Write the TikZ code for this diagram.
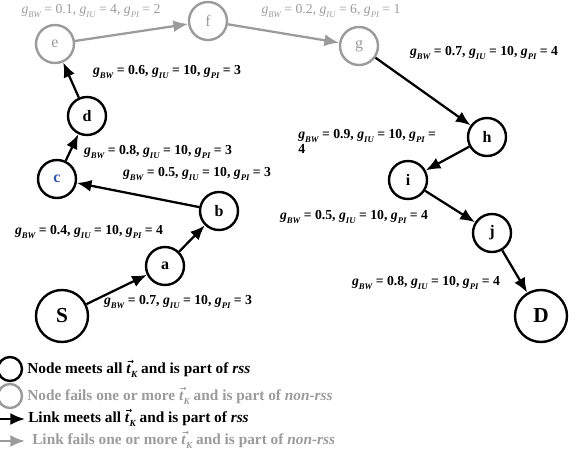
\documentclass[tikz,border=0pt]{standalone}
\usepackage{fontspec}
\setmainfont{Liberation Serif}
\newfontfamily\dejavu{DejaVu Sans}
\usetikzlibrary{arrows.meta}
\definecolor{lgray}{RGB}{155,155,155}
\definecolor{cblue}{RGB}{45,85,170}
\newcommand{\gs}[1]{\textit{g}\raisebox{-0.6ex}{\fontsize{6.5}{6.5}\selectfont\itshape #1}}
\newcommand{\tk}{\rlap{\smash{\raisebox{1.25ex}{\hspace{0.05em}\fontsize{6}{6}\dejavu\bfseries →}}}\textit{t}\smash{\raisebox{-0.6ex}{\fontsize{7}{7}\selectfont\itshape K}}}
\newcommand{\glab}[3]{\gs{BW} = #1, \gs{IU} = #2, \gs{PI} = #3}
\begin{document}
\begin{tikzpicture}[x=0.75pt,y=-0.75pt,
  font=\fontsize{10.3}{12}\selectfont\bfseries,
  vtx/.style={circle,draw=black,line width=1.8pt,minimum size=28.5pt,inner sep=0pt,font=\fontsize{12}{12}\selectfont\bfseries},
  bigvtx/.style={vtx,minimum size=39pt,font=\fontsize{16}{16}\selectfont\bfseries},
  grayvtx/.style={vtx,draw=lgray,text=lgray,font=\fontsize{12}{12}\selectfont},
  okedge/.style={draw=black,line width=1.7pt,-{Latex[length=11pt,width=9pt]}},
  badedge/.style={draw=lgray,line width=1.7pt,-{Latex[length=11pt,width=9pt]}},
  lab/.style={inner sep=0pt},
  graylab/.style={lab,text=lgray,font=\fontsize{10.3}{12}\selectfont},
  legtxt/.style={anchor=west,inner sep=0pt,font=\fontsize{11.5}{12}\selectfont\bfseries}]
\useasboundingbox (0,0) rectangle (577,459);
% nodes
\node[bigvtx] (S) at (62,316) {S};
\node[vtx] (a) at (165,266) {a};
\node[vtx] (b) at (219,211) {b};
\node[vtx,text=cblue] (c) at (57,179) {c};
\node[vtx] (d) at (87,116) {d};
\node[grayvtx] (e) at (55,44) {e};
\node[grayvtx] (f) at (208,21) {f};
\node[grayvtx] (g) at (359,46) {g};
\node[vtx] (h) at (487,137) {h};
\node[vtx] (i) at (408,180) {i};
\node[vtx] (j) at (492,233) {j};
\node[bigvtx] (D) at (541,316) {D};
% edges
\draw[okedge] (S) -- (a);
\draw[okedge] (a) -- (b);
\draw[okedge] (b) -- (c);
\draw[okedge] (c) -- (d);
\draw[okedge] (d) -- (e);
\draw[badedge] (e) -- (f);
\draw[badedge] (f) -- (g);
\draw[okedge] (g) -- (h);
\draw[okedge] (h) -- (i);
\draw[okedge] (i) -- (j);
\draw[okedge] (j) -- (D);
% labels
\node[graylab] (lef) at (91,11) {\glab{0.1}{4}{2}};
\node[graylab] (lfg) at (331,11) {\glab{0.2}{6}{1}};
\node[lab] (lde) at (167,72) {\glab{0.6}{10}{3}};
\node[lab] (lgh) at (484,53) {\glab{0.7}{10}{4}};
\node[lab,anchor=north west,align=left] (lhi) at (298,129) {\gs{BW} = 0.9, \gs{IU} = 10, \gs{PI} =\\[-1pt]4};
\node[lab] (lcd) at (158,152) {\glab{0.8}{10}{3}};
\node[lab] (lbc) at (197,174) {\glab{0.5}{10}{3}};
\node[lab] (lab1) at (89,232) {\glab{0.4}{10}{4}};
\node[lab] (lSa) at (178,302) {\glab{0.7}{10}{3}};
\node[lab] (lij) at (354,217) {\glab{0.5}{10}{4}};
\node[lab] (ljD) at (426,283) {\glab{0.8}{10}{4}};
% legend
\node[circle,draw=black,line width=1.8pt,minimum size=18pt,inner sep=0pt] (lg1) at (10,369) {};
\node[circle,draw=lgray,line width=1.8pt,minimum size=18pt,inner sep=0pt] (lg2) at (10,396) {};
\coordinate (la1) at (0,419);
\coordinate (lb1) at (25,419);
\coordinate (la2) at (0,441);
\coordinate (lb2) at (25,441);
\draw[okedge] (la1) -- (lb1);
\draw[badedge] (la2) -- (lb2);
\node[legtxt] (t1) at (27,370) {Node meets all \tk{} and is part of \textit{rss}};
\node[legtxt,text=lgray] (t2) at (27,397) {Node fails one or more \tk{} and is part of \textit{non-rss}};
\node[legtxt] (t3) at (28,419) {Link meets all \tk{} and is part of \textit{rss}};
\node[legtxt,text=lgray] (t4) at (32,441) {Link fails one or more \tk{} and is part of \textit{non-rss}};
\end{tikzpicture}
\end{document}
